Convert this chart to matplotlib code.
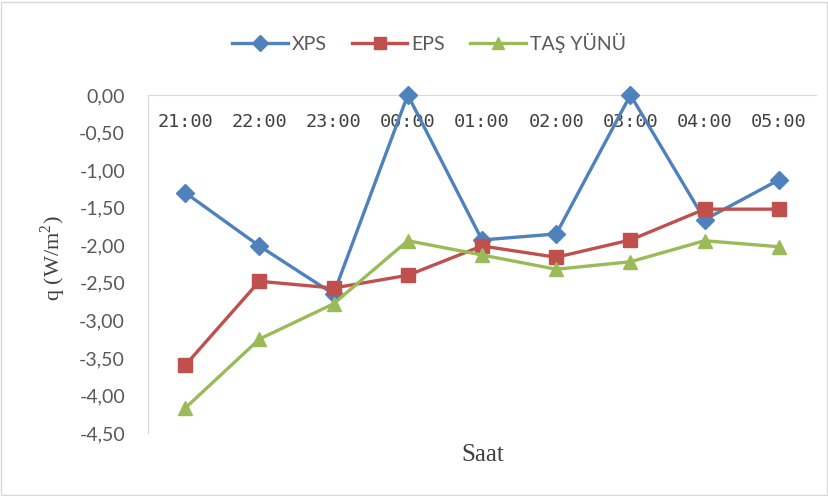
import matplotlib
matplotlib.use("Agg")
import matplotlib.pyplot as plt
from matplotlib.patches import Rectangle

plt.rcParams["mathtext.fontset"] = "custom"
plt.rcParams["mathtext.rm"] = "Liberation Serif"

hours = ["21:00", "22:00", "23:00", "00:00", "01:00", "02:00", "03:00", "04:00", "05:00"]
xps = [-1.30, -2.01, -2.65, 0.00, -1.93, -1.85, 0.00, -1.66, -1.13]
eps = [-3.60, -2.48, -2.57, -2.40, -2.01, -2.16, -1.93, -1.52, -1.52]
tas_yunu = [-4.17, -3.25, -2.78, -1.94, -2.13, -2.32, -2.22, -1.94, -2.02]
y_ticks = [0.0, -0.5, -1.0, -1.5, -2.0, -2.5, -3.0, -3.5, -4.0, -4.5]

fig = plt.figure(figsize=(8.29, 4.96), dpi=100)
ax = fig.add_axes([148 / 829, 1 - 433 / 496, (816 - 148) / 829, (433 - 95) / 496])

x = list(range(len(hours)))
series = [
    (xps, "XPS", "#4F81BD", "D", 9),
    (eps, "EPS", "#C0504D", "s", 10),
    (tas_yunu, "TAŞ YÜNÜ", "#9BBB59", "^", 10),
]
for vals, name, col, mk, ms in series:
    ax.plot(x, vals, color=col, lw=2.4, marker=mk, markersize=ms,
            markeredgecolor=col, markerfacecolor=col, label=name, clip_on=False,
            zorder=3)

ax.set_xlim(-0.5, len(hours) - 0.5)
ax.set_ylim(-4.5, 0)

# category axis crosses the value axis at zero
ax.spines["bottom"].set_position(("data", 0))
ax.spines["bottom"].set_color("#D9D9D9")
ax.spines["left"].set_color("#D9D9D9")
ax.spines["top"].set_visible(False)
ax.spines["right"].set_visible(False)

ax.set_xticks(x)
ax.set_xticklabels(hours, fontfamily="DejaVu Sans Mono", fontsize=13.3, color="#404040")
ax.tick_params(axis="x", length=0, pad=13)
ax.set_yticks(y_ticks)
ax.set_yticklabels([f"{v:.2f}".replace(".", ",") for v in y_ticks],
                   fontfamily="Lato", fontsize=14, color="#595959")
ax.tick_params(axis="y", length=0, pad=16.5)

fig.text(53 / 829, 1 - 258 / 496, r"q (W/m$^{2}$)", rotation=90, ha="center", va="center",
         fontfamily="Liberation Serif", fontsize=16, color="#404040")
fig.text(483 / 829, 1 - 455 / 496, "Saat", ha="center", va="center",
         fontfamily="Liberation Serif", fontsize=18, color="#404040")

leg = fig.legend(loc="center", bbox_to_anchor=(429 / 829, 1 - 43 / 496), ncol=3,
                 frameon=False, handlelength=2.85, columnspacing=1.3, handletextpad=0.2,
                 prop={"family": "Lato", "size": 14})
for t in leg.get_texts():
    t.set_color("#595959")
for h in leg.legend_handles:
    h.set_markersize(h.get_markersize() * 0.9)

fig.patches.append(Rectangle((1.5 / 829, 1.5 / 496), 826 / 829, 493 / 496,
                             transform=fig.transFigure, fill=False,
                             edgecolor="#D9D9D9", lw=1))

fig.savefig("out.png", dpi=100)
